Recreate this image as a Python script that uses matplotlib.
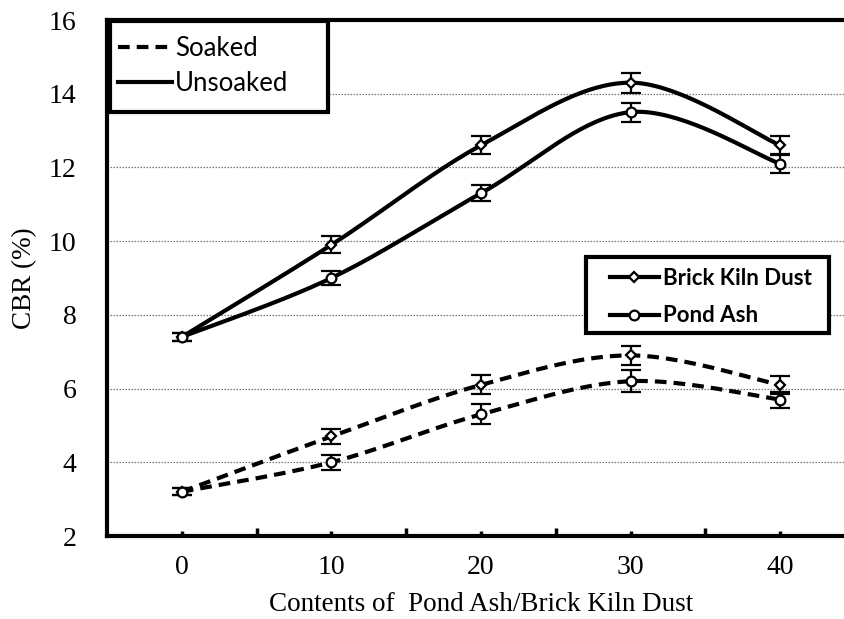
import numpy as np
import matplotlib
matplotlib.use("Agg")
import matplotlib.pyplot as plt
from matplotlib.lines import Line2D
from matplotlib.patches import Rectangle

# CBR test results versus additive content
content = [0, 10, 20, 30, 40]
unsoaked_bkd = [7.4, 9.9, 12.6, 14.3, 12.6]
unsoaked_pa = [7.4, 9.0, 11.3, 13.5, 12.1]
soaked_bkd = [3.2, 4.7, 6.1, 6.9, 6.1]
soaked_pa = [3.2, 4.0, 5.3, 6.2, 5.7]

err_unsoaked_bkd = [0.1, 0.23, 0.24, 0.27, 0.24]
err_unsoaked_pa = [0.1, 0.19, 0.22, 0.26, 0.24]
err_soaked_bkd = [0.1, 0.2, 0.26, 0.26, 0.24]
err_soaked_pa = [0.1, 0.2, 0.27, 0.3, 0.22]

y_ticks = [2, 4, 6, 8, 10, 12, 14, 16]
x_ticks = [0, 10, 20, 30, 40]

serif = "Liberation Serif"
sans = "Lato"

fig = plt.figure(figsize=(8.44, 6.19), dpi=100)
W, H = 844, 619
ax_left, ax_right, ax_top, ax_bottom = 107, 855, 20, 536
ax = fig.add_axes([ax_left / W, 1 - ax_bottom / H,
                   (ax_right - ax_left) / W, (ax_bottom - ax_top) / H])
ax.set_xlim(-5, 45)
ax.set_ylim(2, 16)


def smooth_curve(ax, xs, ys, n=40):
    """Bezier smoothing (Catmull-Rom style) computed in display space."""
    pts = ax.transData.transform(np.column_stack([xs, ys]))
    out = []
    m = len(pts)
    for i in range(m - 1):
        p0 = pts[i - 1] if i > 0 else pts[i]
        p1 = pts[i]
        p2 = pts[i + 1]
        p3 = pts[i + 2] if i + 2 < m else pts[i + 1]
        c1 = p1 + (p2 - p0) / 6.0
        c2 = p2 - (p3 - p1) / 6.0
        t = np.linspace(0, 1, n)[:, None]
        seg = ((1 - t) ** 3) * p1 + 3 * ((1 - t) ** 2) * t * c1 \
            + 3 * (1 - t) * t ** 2 * c2 + t ** 3 * p2
        out.append(seg if i == 0 else seg[1:])
    out = np.vstack(out)
    data = ax.transData.inverted().transform(out)
    return data[:, 0], data[:, 1]


lw = 3.0
dash = (2.8, 1.7)
series = [
    (unsoaked_bkd, err_unsoaked_bkd, "-", "D", 5.5),
    (unsoaked_pa, err_unsoaked_pa, "-", "o", 7.0),
    (soaked_bkd, err_soaked_bkd, "--", "D", 5.5),
    (soaked_pa, err_soaked_pa, "--", "o", 7.0),
]

for vals, errs, ls, mk, ms in series:
    sx, sy = smooth_curve(ax, content, vals)
    line, = ax.plot(sx, sy, color="black", lw=lw, zorder=3,
                    solid_capstyle="butt")
    if ls == "--":
        line.set_dashes(dash)
    ax.errorbar(content, vals, yerr=errs, fmt="none", ecolor="black",
                elinewidth=1.6, capsize=7, capthick=1.6, zorder=4)
    ax.plot(content, vals, linestyle="none", marker=mk, ms=ms,
            mfc="white", mec="black", mew=1.6, zorder=5)

# axes styling
for side in ["left", "bottom", "top"]:
    ax.spines[side].set_linewidth(3)
    ax.spines[side].set_color("black")
ax.spines["right"].set_visible(False)

tick_font = {"fontfamily": serif, "fontsize": 20}
ax.set_yticks(y_ticks)
ax.set_yticklabels([str(v) for v in y_ticks], **tick_font)
ax.tick_params(axis="y", length=0, pad=22)
ax.set_xticks(x_ticks)
ax.set_xticklabels([str(v) for v in x_ticks], **tick_font)
ax.set_xticks([5, 15, 25, 35], minor=True)
ax.tick_params(axis="x", which="major", direction="in", length=3.5, width=2.5,
               pad=14)
ax.tick_params(axis="x", which="minor", direction="in", length=6, width=2.5)

ax.yaxis.grid(True, linestyle=(0, (1.2, 1.2)), color="#777777", lw=0.9)
ax.set_axisbelow(True)

ax.set_ylabel("CBR (%)", fontfamily=serif, fontsize=19.5, labelpad=8)
ax.set_xlabel("Contents of  Pond Ash/Brick Kiln Dust", fontfamily=serif,
              fontsize=19.5, labelpad=8)


def fig_box(x0, y0, x1, y1):
    return (x0 / W, 1 - y1 / H, (x1 - x0) / W, (y1 - y0) / H)


# legend for test condition
bx = fig_box(110, 21, 328, 112)
fig.patches.append(Rectangle(bx[:2], bx[2], bx[3], transform=fig.transFigure,
                             facecolor="white", edgecolor="black", lw=3,
                             zorder=10))
soaked_h = Line2D([], [], color="black", lw=lw, dashes=dash)
unsoaked_h = Line2D([], [], color="black", lw=lw)
leg1 = fig.legend([soaked_h, unsoaked_h], ["Soaked", "Unsoaked"],
                  loc="center left", bbox_to_anchor=(118 / W, 1 - 66 / H),
                  frameon=False, prop={"family": sans, "size": 18.5},
                  handlelength=2.1, handletextpad=0.12, labelspacing=0.36,
                  borderpad=0, borderaxespad=0)
leg1.set_zorder(11)

# legend for additive type
bx2 = fig_box(586, 257, 829, 333)
fig.patches.append(Rectangle(bx2[:2], bx2[2], bx2[3], transform=fig.transFigure,
                             facecolor="white", edgecolor="black", lw=3,
                             zorder=10))
bkd_h = Line2D([], [], color="black", lw=lw, marker="D", ms=5.5,
               mfc="white", mec="black", mew=1.6)
pa_h = Line2D([], [], color="black", lw=lw, marker="o", ms=7,
              mfc="white", mec="black", mew=1.6)
leg2 = fig.legend([bkd_h, pa_h], ["Brick Kiln Dust", "Pond Ash"],
                  loc="center left", bbox_to_anchor=(610 / W, 1 - 297 / H),
                  frameon=False,
                  prop={"family": sans, "size": 16, "weight": "bold"},
                  handlelength=2.2, handletextpad=0.2, labelspacing=0.75,
                  borderpad=0, borderaxespad=0)
leg2.set_zorder(11)

fig.savefig("out.png", dpi=100)
